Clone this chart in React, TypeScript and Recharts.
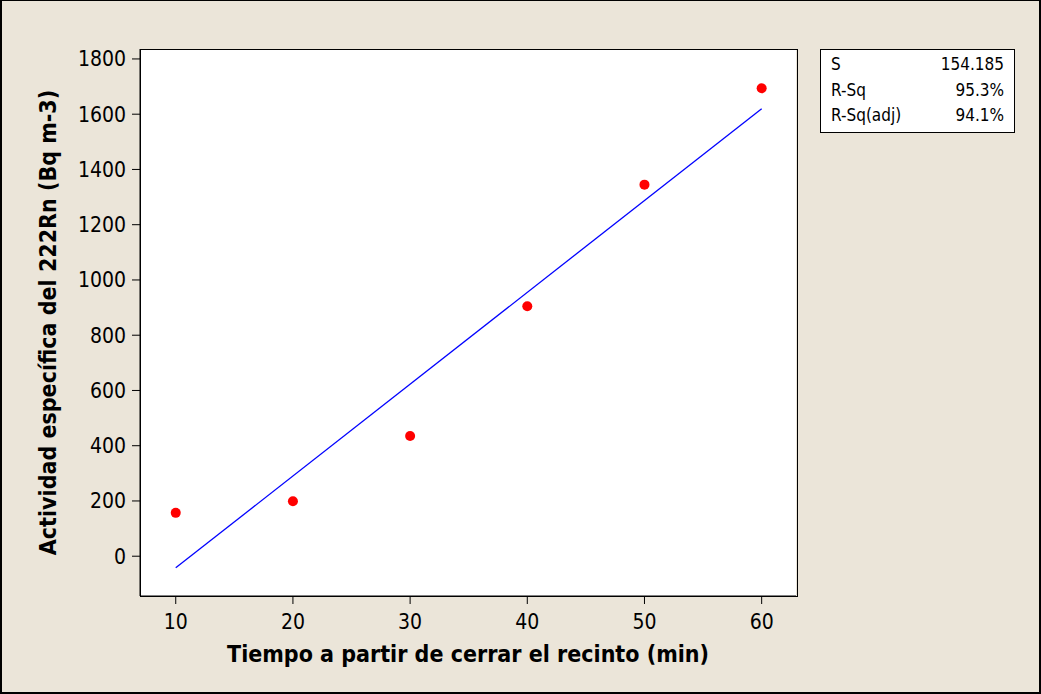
import React from 'react';
import { ComposedChart, Scatter, Line, XAxis, YAxis, CartesianGrid } from 'recharts';

const timeMin = [10, 20, 30, 40, 50, 60];
const activity = [157, 199, 435, 905, 1345, 1694];
const fitTime = [10, 60];
const fitActivity = [-42, 1620];
const xTicks = [10, 20, 30, 40, 50, 60];
const yTicks = [0, 200, 400, 600, 800, 1000, 1200, 1400, 1600, 1800];
const statLabels = ['S', 'R-Sq', 'R-Sq(adj)'];
const statValues = ['154.185', '95.3%', '94.1%'];

const points = timeMin.map((x, i) => ({ x, y: activity[i] }));
const fit = fitTime.map((x, i) => ({ x, y: fitActivity[i] }));

const FONT = "'DejaVu Sans Condensed', 'Liberation Sans', sans-serif";
const BG = '#EBE5D9';

const Dot = (props: any) => {
  const { cx, cy } = props;
  if (cx == null || cy == null) return null;
  return <circle cx={cx} cy={cy} r={5} fill="#FF0000" />;
};

export default function App() {
  return (
    <div
      style={{
        position: 'absolute',
        left: 0,
        top: 0,
        width: 1041,
        height: 694,
        background: BG,
        boxSizing: 'border-box',
        borderLeft: '2px solid #000',
        borderTop: '1px solid #000',
        borderRight: '2px solid #000',
        borderBottom: '2px solid #000',
        fontFamily: FONT,
      }}
    >
      <div style={{ position: 'absolute', left: -2, top: -1 }}>
        <ComposedChart
          width={1041}
          height={694}
          margin={{ top: 49, right: 245, bottom: 0, left: 0 }}
        >
          <CartesianGrid fill="#FFFFFF" horizontal={false} vertical={false} />
          <XAxis
            xAxisId="b"
            dataKey="x"
            type="number"
            domain={[6.95, 62.93]}
            ticks={xTicks}
            allowDataOverflow
            height={98}
            tickSize={8}
            tickMargin={10}
            stroke="#000"
            tick={{ fill: '#000', fontSize: 21, fontFamily: FONT }}
            label={{
              value: 'Tiempo a partir de cerrar el recinto (min)',
              position: 'insideBottom',
              offset: 32,
              style: { fill: '#000', fontSize: 23, fontWeight: 'bold', fontFamily: FONT },
            }}
          />
          <YAxis
            yAxisId="l"
            type="number"
            domain={[-144, 1836]}
            ticks={yTicks}
            allowDataOverflow
            width={140}
            tickSize={8}
            tickMargin={6}
            stroke="#000"
            tick={{ fill: '#000', fontSize: 21, fontFamily: FONT }}
            label={{
              value: 'Actividad específica del 222Rn (Bq m-3)',
              angle: -90,
              position: 'insideLeft',
              offset: 48,
              style: { fill: '#000', fontSize: 23, fontWeight: 'bold', fontFamily: FONT, textAnchor: 'middle' },
            }}
          />
          <Line
            xAxisId="b"
            yAxisId="l"
            data={fit}
            dataKey="y"
            type="linear"
            stroke="#0000FF"
            strokeWidth={1.3}
            dot={false}
            activeDot={false}
            isAnimationActive={false}
          />
          <Scatter
            xAxisId="b"
            yAxisId="l"
            data={points}
            dataKey="y"
            shape={Dot}
            isAnimationActive={false}
          />
        </ComposedChart>
      </div>
      <div
        style={{
          position: 'absolute',
          left: 137.5,
          top: 48,
          width: 658,
          height: 548,
          border: '1.5px solid #000',
          boxSizing: 'border-box',
          pointerEvents: 'none',
        }}
      />
      <div
        style={{
          position: 'absolute',
          left: 818,
          top: 48,
          width: 195,
          height: 84,
          background: '#FFFFFF',
          border: '1px solid #000',
          boxSizing: 'border-box',
          fontSize: 17,
          color: '#000',
          padding: '2px 10px 0 10px',
        }}
      >
        {statLabels.map((l, i) => (
          <div
            key={l}
            style={{ display: 'flex', justifyContent: 'space-between', height: 25.5, lineHeight: '25.5px' }}
          >
            <span>{l}</span>
            <span>{statValues[i]}</span>
          </div>
        ))}
      </div>
    </div>
  );
}
